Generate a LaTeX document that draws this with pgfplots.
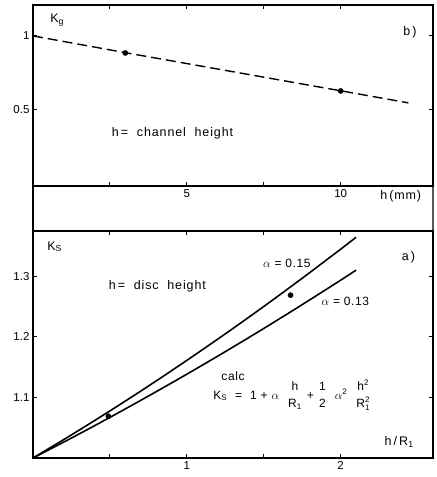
\documentclass[border=0pt]{standalone}
\usepackage{pgfplots}
\pgfplotsset{compat=1.18}
\usepackage{amsmath}
\usepackage{fontspec}
\setmainfont{Liberation Sans}
\newfontfamily\lab{Liberation Sans}[LetterSpace=5]
\newfontfamily\labw{Liberation Sans}[LetterSpace=7]
\usetikzlibrary{calc}
\tikzset{lbl/.style={font=\lab\fontsize{12}{14}\selectfont},
         lblw/.style={font=\labw\fontsize{12.5}{15}\selectfont}}
\newcommand{\nf}[2]{\genfrac{}{}{0pt}{0}{#1}{#2}}
\pgfplotsset{mystyle/.style={
  scale only axis, width=400pt, clip=false,
  axis line style={line width=1.3pt},
  tick style={line width=0.9pt, black},
  major tick length=4pt,
  /pgf/number format/assume math mode=true,
  tick label style={font=\fontsize{11.5}{13}\selectfont},
}}
\begin{document}
\begin{tikzpicture}
\begin{axis}[mystyle, name=top, height=181pt,
  xmin=0, xmax=13, ymin=-0.02, ymax=1.21,
  xtick={2.5,5,7.5,10}, xticklabels={,5,,10},
  ytick={0.5,1}, yticklabels={0.5,1}]
\addplot[black, line width=1.4pt, dash pattern=on 10pt off 5pt] coordinates {(0,1) (3,0.886) (10,0.627) (12.2,0.545)};
\addplot[only marks, mark=*, mark size=2.6pt, black] coordinates {(3.0,0.884) (10,0.626)};
\node[lblw, anchor=west] at (axis cs:0.45,1.108) {K\textsubscript{g}};
\node[lblw] at (axis cs:12.25,1.026) {b\,)};
\node[lblw, anchor=west] at (axis cs:2.45,0.34) {h\,= \ channel \ height};
\node[lblw] at (axis cs:11.95,-0.088) {h\,(mm)};
\end{axis}
\begin{axis}[mystyle, name=bot, height=227pt,
  at={($(top.south west)+(0,-45pt)$)}, anchor=north west,
  xmin=0, xmax=2.6, ymin=1, ymax=1.375,
  xtick={0.5,1,1.5,2}, xticklabels={,1,,2},
  ytick={1.1,1.2,1.3}, yticklabels={1.1,1.2,1.3}]
\addplot[black, line width=1.6pt, smooth] coordinates {(0,1) (0.25,1.0382) (0.5,1.0778) (0.75,1.1188) (1.0,1.1613) (1.25,1.2051) (1.5,1.2503) (1.75,1.2970) (2.0,1.345) (2.1,1.3646)};
\addplot[black, line width=1.6pt, smooth] coordinates {(0,1) (0.25,1.0330) (0.5,1.0671) (0.75,1.1023) (1.0,1.13845) (1.25,1.1757) (1.5,1.2140) (1.75,1.2534) (2.0,1.2938) (2.1,1.3103)};
\addplot[only marks, mark=*, mark size=2.6pt, black] coordinates {(0.49,1.069) (1.674,1.269)};
\node[lblw, anchor=west] at (axis cs:0.07,1.349) {K\textsubscript{S}};
\node[lblw] at (axis cs:2.44,1.332) {a\,)};
\node[lblw, anchor=west] at (axis cs:0.47,1.283) {h\,= \ disc \ height};
\node[lbl] at (axis cs:1.65,1.322) {$\alpha$ = 0.15};
\node[lbl] at (axis cs:2.03,1.258) {$\alpha$ = 0.13};
\node[lbl] at (axis cs:1.30,1.135) {calc};
\node[lbl, anchor=west] at (axis cs:1.15,1.104) {K\textsubscript{S} \ = \ 1 + $\alpha$ \ $\nf{\text{h}}{\text{R}_{\text{1}}}$ + $\nf{\text{1}}{\text{2}}$ \ $\alpha^{\text{2}}$ \ $\nf{\text{h}^{\text{2}}}{\text{R}^{\text{2}}_{\text{1}}}$};
\node[lblw] at (axis cs:2.38,1.026) {h\,/\,R\textsubscript{1}};
\end{axis}
\draw[line width=1.3pt] (top.south west) -- (bot.north west);
\draw[line width=1.3pt] (top.south east) -- (bot.north east);
\pgfresetboundingbox
\path ($(top.north west)+(-33pt,5pt)$) rectangle ($(bot.south east)+(4pt,-19pt)$);
\end{tikzpicture}
\end{document}
